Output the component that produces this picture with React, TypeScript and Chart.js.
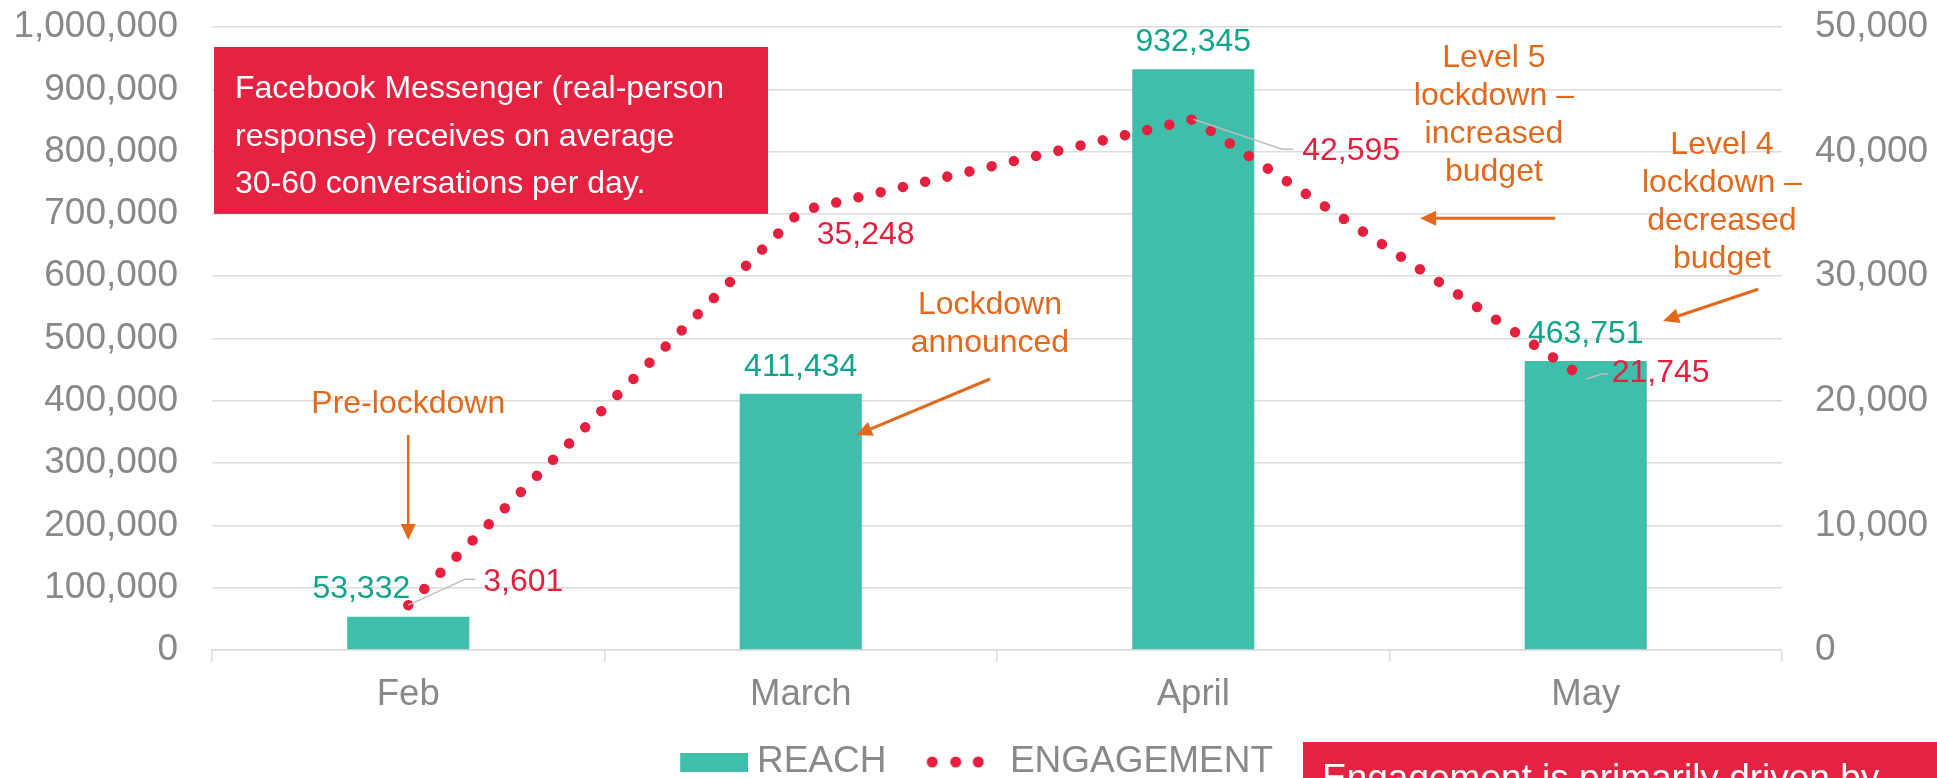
import React, { useEffect, useRef } from "react";
import { Chart, registerables } from "chart.js";

Chart.register(...registerables);

// ---------------- data ----------------
const months = ["Feb", "March", "April", "May"];
const reach = [53332, 411434, 932345, 463751];
const engagement = [3601, 35248, 42595, 21745];

const REACH_MAX = 1000000;
const REACH_STEP = 100000;
const ENG_MAX = 50000;
const ENG_STEP = 10000;

const seriesNames = ["REACH", "ENGAGEMENT"];

const boxNoteLines = [
  "Facebook Messenger (real-person",
  "response) receives on average",
  "30-60 conversations per day.",
];
const bottomNote = "Engagement is primarily driven by";
const preLockdownText = ["Pre-lockdown"];
const lockdownText = ["Lockdown", "announced"];
const level5Text = ["Level 5", "lockdown \u2013", "increased", "budget"];
const level4Text = ["Level 4", "lockdown \u2013", "decreased", "budget"];

// ---------------- styles ----------------
const FONT = '"Liberation Sans", Arial, sans-serif';
const TEAL = "#3ebeab";
const TEAL_TEXT = "#10a58a";
const RED = "#e5203f";
const RED_BOX = "#e52242";
const ORANGE = "#e2691c";
const GREY = "#898989";
const GRID = "#dcdcdc";
const LEADER = "#bdbdbd";
const CLEAR = "rgba(0,0,0,0)";

const fmt = (v: number) => new Intl.NumberFormat("en-US").format(v);

// label offsets (px) relative to the element positions
const barLabelPos = [
  { dx: 2, dy: -19, align: "right" },
  { dx: 0, dy: -18, align: "center" },
  { dx: 0, dy: -18, align: "center" },
  { dx: 0, dy: -18, align: "center" },
];
const engLabelPos: { dx: number; dy: number; leader?: number[][] }[] = [
  { dx: 75, dy: -14, leader: [[57, -26], [67, -26]] },
  { dx: 16, dy: 33 },
  { dx: 109, dy: 41, leader: [[89, 30], [100, 30]] },
  { dx: 26, dy: 3, leader: [[16, -5], [22, -5]] },
];

function makeReachImg() {
  const c = document.createElement("canvas");
  c.width = 94;
  c.height = 19;
  const g = c.getContext("2d")!;
  g.fillStyle = TEAL;
  g.fillRect(26, 0, 68, 19);
  return c;
}
function makeEngImg() {
  const c = document.createElement("canvas");
  c.width = 68;
  c.height = 12;
  const g = c.getContext("2d")!;
  g.fillStyle = RED;
  [12, 35.5, 58].forEach((x) => {
    g.beginPath();
    g.arc(x, 6, 5.5, 0, Math.PI * 2);
    g.fill();
  });
  return c;
}

function arrow(ctx: CanvasRenderingContext2D, x1: number, y1: number, x2: number, y2: number, w: number) {
  const ang = Math.atan2(y2 - y1, x2 - x1);
  const head = 16;
  const hw = 7.5;
  const bx = x2 - head * Math.cos(ang);
  const by = y2 - head * Math.sin(ang);
  ctx.strokeStyle = ORANGE;
  ctx.fillStyle = ORANGE;
  ctx.lineWidth = w;
  ctx.beginPath();
  ctx.moveTo(x1, y1);
  ctx.lineTo(bx, by);
  ctx.stroke();
  ctx.beginPath();
  ctx.moveTo(x2, y2);
  ctx.lineTo(bx + hw * Math.sin(ang), by - hw * Math.cos(ang));
  ctx.lineTo(bx - hw * Math.sin(ang), by + hw * Math.cos(ang));
  ctx.closePath();
  ctx.fill();
}

const annotationPlugin = {
  id: "annotations",
  afterDraw(chart: any) {
    const ctx: CanvasRenderingContext2D = chart.ctx;
    const xs = chart.scales.x;
    const ys = chart.scales.yReach;
    const px = (i: number) => xs.getPixelForValue(i);
    const py = (v: number) => ys.getPixelForValue(v);
    ctx.save();

    // top-left red note box
    const bx1 = px(-0.495), bx2 = px(0.9166), by1 = py(967900), by2 = py(700000);
    ctx.fillStyle = RED_BOX;
    ctx.fillRect(bx1, by1, bx2 - bx1, by2 - by1);
    ctx.fillStyle = "#ffffff";
    ctx.font = `32px ${FONT}`;
    ctx.textAlign = "left";
    ctx.textBaseline = "alphabetic";
    boxNoteLines.forEach((t, k) => ctx.fillText(t, px(-0.4414), py(886000) + k * 47.5));

    // bottom-right red note box
    const bb1 = px(2.2796), bbt = py(-147700);
    ctx.fillStyle = RED_BOX;
    ctx.fillRect(bb1, bbt, chart.width - bb1, chart.height - bbt);
    ctx.fillStyle = "#ffffff";
    ctx.font = `37px ${FONT}`;
    ctx.fillText(bottomNote, px(2.328), py(-224700));

    // orange annotations
    ctx.font = `32px ${FONT}`;
    ctx.textAlign = "center";
    const block = (lines: string[], xi: number, v: number) => {
      ctx.fillStyle = ORANGE;
      lines.forEach((t, k) => ctx.fillText(t, px(xi), py(v) + k * 38));
    };
    block(preLockdownText, 0, 380400);
    block(lockdownText, 1.482, 539300);
    block(level5Text, 2.766, 935800);
    block(level4Text, 3.347, 796100);
    arrow(ctx, px(0), py(345100), px(0), py(176600), 2.5);
    arrow(ctx, px(1.482), py(435000), px(1.141), py(345000), 3);
    arrow(ctx, px(2.922), py(693000), px(2.578), py(693000), 3);
    arrow(ctx, px(3.439), py(579000), px(3.197), py(528000), 3);

    // bar value labels
    const barMeta = chart.getDatasetMeta(0);
    ctx.font = `32px ${FONT}`;
    ctx.fillStyle = TEAL_TEXT;
    barMeta.data.forEach((el: any, i: number) => {
      const p = barLabelPos[i];
      ctx.textAlign = p.align as CanvasTextAlign;
      ctx.fillText(fmt(reach[i]), el.x + p.dx, el.y + p.dy);
    });

    // engagement labels + leaders
    const lineMeta = chart.getDatasetMeta(1);
    lineMeta.data.forEach((el: any, i: number) => {
      const p = engLabelPos[i];
      if (p.leader) {
        ctx.strokeStyle = LEADER;
        ctx.lineWidth = 1.5;
        ctx.beginPath();
        ctx.moveTo(el.x, el.y);
        p.leader.forEach(([dx, dy]) => ctx.lineTo(el.x + dx, el.y + dy));
        ctx.stroke();
      }
      ctx.fillStyle = RED;
      ctx.textAlign = "left";
      ctx.fillText(fmt(engagement[i]), el.x + p.dx, el.y + p.dy);
    });

    ctx.restore();
  },
};

export default function App() {
  const ref = useRef<HTMLCanvasElement>(null);
  useEffect(() => {
    const canvas = ref.current!;
    const reachImg = makeReachImg();
    const engImg = makeEngImg();
    const chart = new Chart(canvas, {
      type: "bar",
      data: {
        labels: months,
        datasets: [
          {
            type: "bar",
            label: seriesNames[0],
            data: reach,
            yAxisID: "yReach",
            backgroundColor: TEAL,
            barPercentage: 0.311,
            categoryPercentage: 1,
            order: 1,
          } as any,
          {
            type: "line",
            label: seriesNames[1],
            data: engagement,
            yAxisID: "yEng",
            borderColor: RED,
            borderWidth: 10.5,
            borderDash: [0.001, 22.8],
            borderCapStyle: "round",
            tension: 0,
            pointRadius: 0,
            fill: false,
            order: 0,
          } as any,
        ],
      },
      options: {
        responsive: false,
        animation: false,
        devicePixelRatio: 1,
        layout: { padding: { top: 27, bottom: 9.5, left: 0, right: 0 } },
        plugins: {
          tooltip: { enabled: false },
          legend: {
            position: "bottom",
            labels: {
              usePointStyle: true,
              pointStyleWidth: 74.5,
              padding: 30.5,
              color: GREY,
              font: { family: FONT, size: 37 },
              generateLabels: () => [
                {
                  text: seriesNames[0],
                  pointStyle: reachImg,
                  fillStyle: TEAL,
                  strokeStyle: TEAL,
                  lineWidth: 0,
                  hidden: false,
                  datasetIndex: 0,
                  fontColor: GREY,
                } as any,
                {
                  text: seriesNames[1],
                  pointStyle: engImg,
                  fillStyle: RED,
                  strokeStyle: RED,
                  lineWidth: 0,
                  hidden: false,
                  datasetIndex: 1,
                  fontColor: GREY,
                } as any,
              ],
            },
          },
        },
        scales: {
          x: {
            type: "category",
            offset: true,
            grid: {
              offset: true,
              drawOnChartArea: false,
              drawTicks: true,
              tickLength: 12,
              color: GRID,
              lineWidth: 1.5,
            },
            border: { display: true, color: GRID, width: 1.5 },
            ticks: {
              color: GREY,
              font: { family: FONT, size: 36.5 },
              padding: 11,
              maxRotation: 0,
              autoSkip: false,
            },
            afterFit: (s: any) => {
              s.height = 63;
            },
          },
          yReach: {
            type: "linear",
            position: "left",
            min: 0,
            max: REACH_MAX,
            grid: { color: GRID, lineWidth: 1.5, drawTicks: true, tickLength: 30, tickColor: CLEAR },
            border: { display: false },
            ticks: {
              stepSize: REACH_STEP,
              padding: 4,
              color: GREY,
              font: { family: FONT, size: 37 },
              callback: (v: any) => fmt(Number(v)),
            },
            afterFit: (s: any) => {
              s.width = 212;
            },
          },
          yEng: {
            type: "linear",
            position: "right",
            min: 0,
            max: ENG_MAX,
            grid: { drawOnChartArea: false, drawTicks: true, tickLength: 29, tickColor: CLEAR, color: CLEAR },
            border: { display: false },
            ticks: {
              stepSize: ENG_STEP,
              padding: 4,
              color: GREY,
              font: { family: FONT, size: 37 },
              callback: (v: any) => fmt(Number(v)),
            },
            afterFit: (s: any) => {
              s.width = 155;
            },
          },
        },
      } as any,
      plugins: [annotationPlugin],
    });
    return () => chart.destroy();
  }, []);
  return (
    <div style={{ position: "fixed", left: 0, top: 0, width: 1937, height: 800, background: "#ffffff" }}>
      <canvas ref={ref} width={1937} height={800} style={{ display: "block" }} />
    </div>
  );
}
